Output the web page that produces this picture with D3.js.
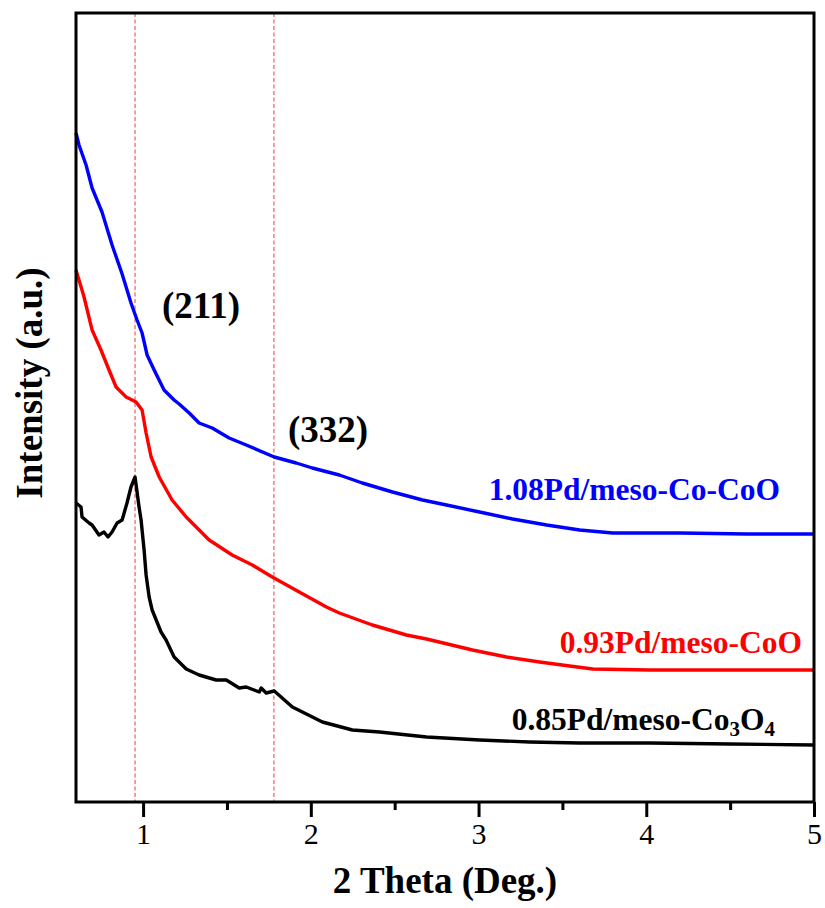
<!DOCTYPE html>
<html>
<head>
<meta charset="utf-8">
<script src="https://cdn.jsdelivr.net/npm/d3@7/dist/d3.min.js"></script>
<style>
  body { margin: 0; background: #fff; }
  .xrd text { font-family: "Liberation Serif", "Times New Roman", serif; }
</style>
</head>
<body>
<div class="xrd"></div>
<script>
// values (2 theta in deg, intensity in a.u.)
var coCoOTheta = [0.60, 0.618, 0.66, 0.696, 0.755, 0.815, 0.875, 0.928, 0.964, 0.994, 1.024, 1.066, 1.125, 1.185, 1.215, 1.275, 1.334, 1.412, 1.513, 1.615, 1.782, 1.913, 2.009, 2.17, 2.307, 2.487, 2.666, 2.809, 3.006, 3.203, 3.406, 3.603, 3.8, 4.2, 4.6, 5.0];
var coCoOInt = [669, 657, 637, 614, 590, 557, 528, 499, 482, 469, 447, 432, 412, 402, 398, 389, 379, 374, 364, 357, 345, 339, 334, 327, 319, 310, 302, 297, 290, 283, 277, 272, 269, 269, 268, 268];

var coOTheta = [0.60, 0.648, 0.696, 0.749, 0.797, 0.839, 0.899, 0.958, 0.994, 1.018, 1.048, 1.096, 1.173, 1.257, 1.394, 1.531, 1.651, 1.77, 1.931, 2.093, 2.17, 2.367, 2.57, 2.69, 2.964, 3.167, 3.364, 3.543, 3.681, 4.021, 4.499, 5.0];
var coOInt = [532, 505, 472, 452, 432, 415, 405, 400, 392, 369, 345, 325, 302, 285, 262, 247, 237, 225, 210, 195, 189, 177, 167, 163, 152, 145, 140, 136, 133, 132, 132, 132];

var co3o4Theta = [0.60, 0.63, 0.636, 0.678, 0.696, 0.737, 0.767, 0.791, 0.815, 0.845, 0.875, 0.904, 0.928, 0.952, 0.976, 0.988, 1.006, 1.018, 1.036, 1.054, 1.078, 1.107, 1.137, 1.185, 1.257, 1.334, 1.436, 1.496, 1.573, 1.615, 1.693, 1.704, 1.734, 1.782, 1.89, 2.069, 2.248, 2.409, 2.69, 3.006, 3.304, 3.603, 4.021, 4.499, 5.0];
var co3o4Int = [299, 295, 285, 279, 277, 267, 270, 265, 270, 279, 282, 299, 315, 325, 295, 282, 252, 227, 205, 192, 182, 170, 162, 145, 133, 127, 122, 122, 114, 115, 110, 114, 109, 111, 95, 80, 72, 70, 65, 62, 60, 59, 59, 58, 57];

var peakTheta = [0.952, 1.78];
var peakLabels = ["(211)", "(332)"];
var majorTicks = [1, 2, 3, 4, 5];
var minorTicks = [1.5, 2.5, 3.5, 4.5];

var svgWidth = 825;
var svgHeight = 908;

var margin = {
  top: 13,
  right: 11,
  bottom: 106,
  left: 76
};

var width = svgWidth - margin.left - margin.right;
var height = svgHeight - margin.top - margin.bottom;

var svg = d3.select(".xrd")
  .append("svg")
  .attr("width", svgWidth)
  .attr("height", svgHeight);

var chartGroup = svg.append("g")
  .attr("transform", `translate(${margin.left}, ${margin.top})`);

var xScale = d3.scaleLinear()
  .domain([0.6, 5])
  .range([0, width]);

var yScale = d3.scaleLinear()
  .domain([0, 789])
  .range([height, 0]);

// dashed reference lines at the peaks
chartGroup.selectAll(".peak-line")
  .data(peakTheta)
  .enter()
  .append("line")
  .attr("class", "peak-line")
  .attr("x1", d => xScale(d))
  .attr("x2", d => xScale(d))
  .attr("y1", 0)
  .attr("y2", height)
  .attr("stroke", "#f46a6a")
  .attr("stroke-width", 1.3)
  .attr("stroke-dasharray", "4,2.5");

var series = [
  {theta: co3o4Theta, inten: co3o4Int, color: "#000000"},
  {theta: coOTheta, inten: coOInt, color: "#ff0000"},
  {theta: coCoOTheta, inten: coCoOInt, color: "#0000ff"}
];

var line = d3.line()
  .x(d => xScale(d[0]))
  .y(d => yScale(d[1]));

series.forEach(function(s) {
  var pts = s.theta.map((t, i) => [t, s.inten[i]]);
  chartGroup.append("path")
    .datum(pts)
    .attr("d", line)
    .attr("fill", "none")
    .attr("stroke", s.color)
    .attr("stroke-width", 3.4)
    .attr("stroke-linejoin", "round");
});

// x axis, major and minor ticks
var minorAxis = chartGroup.append("g")
  .attr("transform", `translate(0, ${height})`)
  .call(d3.axisBottom(xScale).tickValues(minorTicks).tickSize(8).tickFormat(""));

var xAxis = chartGroup.append("g")
  .attr("transform", `translate(0, ${height})`)
  .call(d3.axisBottom(xScale).tickValues(majorTicks).tickSize(15).tickPadding(6).tickFormat(d3.format("d")));

[minorAxis, xAxis].forEach(function(ax) {
  ax.select(".domain").remove();
  ax.selectAll("line").attr("stroke", "#000").attr("stroke-width", 3);
});

xAxis.selectAll("text")
  .attr("fill", "#000")
  .style("font-size", "30px");

// frame
chartGroup.append("rect")
  .attr("x", 0)
  .attr("y", 0)
  .attr("width", width)
  .attr("height", height)
  .attr("fill", "none")
  .attr("stroke", "#000")
  .attr("stroke-width", 3);

// axis titles
svg.append("text")
  .attr("x", 445)
  .attr("y", 893)
  .attr("text-anchor", "middle")
  .style("font-size", "37px")
  .style("font-weight", "bold")
  .text("2 Theta (Deg.)");

svg.append("text")
  .attr("transform", "translate(42, 383) rotate(-90)")
  .attr("text-anchor", "middle")
  .style("font-size", "37px")
  .style("font-weight", "bold")
  .text("Intensity (a.u.)");

// peak labels
var peakPos = [[162, 318], [288, 442]];
svg.selectAll(".peak-label")
  .data(peakLabels)
  .enter()
  .append("text")
  .attr("class", "peak-label")
  .attr("x", (d, i) => peakPos[i][0])
  .attr("y", (d, i) => peakPos[i][1])
  .style("font-size", "37px")
  .style("font-weight", "bold")
  .text(d => d);

// series labels
svg.append("text")
  .attr("x", 780)
  .attr("y", 500)
  .attr("text-anchor", "end")
  .attr("fill", "#0000ff")
  .style("font-size", "31.5px")
  .style("font-weight", "bold")
  .text("1.08Pd/meso-Co-CoO");

svg.append("text")
  .attr("x", 802)
  .attr("y", 653)
  .attr("text-anchor", "end")
  .attr("fill", "#ff0000")
  .style("font-size", "31.5px")
  .style("font-weight", "bold")
  .text("0.93Pd/meso-CoO");

var co3o4Label = svg.append("text")
  .attr("x", 775)
  .attr("y", 730)
  .attr("text-anchor", "end")
  .attr("fill", "#000")
  .style("font-size", "31.5px")
  .style("font-weight", "bold");
co3o4Label.append("tspan").text("0.85Pd/meso-Co");
co3o4Label.append("tspan").attr("dy", 6).style("font-size", "21px").text("3");
co3o4Label.append("tspan").attr("dy", -6).text("O");
co3o4Label.append("tspan").attr("dy", 6).style("font-size", "21px").text("4");
</script>
</body>
</html>
